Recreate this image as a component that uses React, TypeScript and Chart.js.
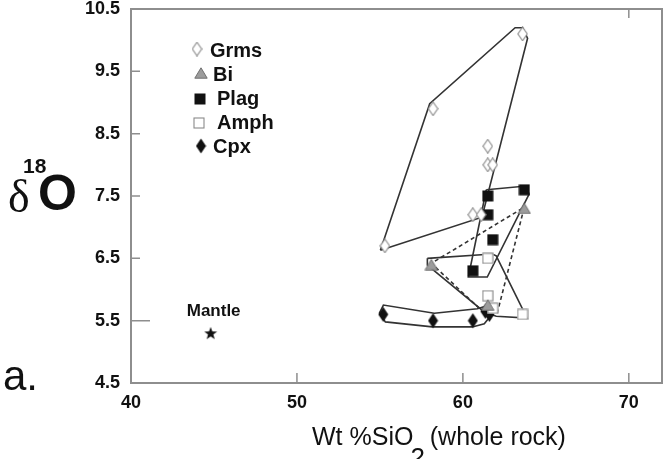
import React, { useEffect, useRef } from "react";
import { Chart, registerables } from "chart.js";
Chart.register(...registerables);

// ---- data ----
const seriesNames = ["Grms", "Bi", "Plag", "Amph", "Cpx"];
const grmsX = [55.3, 58.2, 63.6, 61.5, 61.5, 61.8, 60.6, 61.1];
const grmsY = [6.7, 8.9, 10.1, 8.3, 8.0, 8.0, 7.2, 7.2];
const biX = [58.1, 63.7, 61.5];
const biY = [6.4, 7.3, 5.75];
const plagX = [61.5, 63.7, 61.5, 61.8, 60.6];
const plagY = [7.5, 7.6, 7.2, 6.8, 6.3];
const amphX = [61.5, 61.5, 61.8, 63.6];
const amphY = [6.5, 5.9, 5.7, 5.6];
const cpxX = [55.2, 58.2, 60.6, 61.35, 61.6];
const cpxY = [5.6, 5.5, 5.5, 5.65, 5.6];
const mantleX = [44.8];
const mantleY = [5.3];
const mantleLabel = "Mantle";

// field outlines
const grmsFieldX = [55.03, 58.0, 63.15, 63.6, 63.9, 61.15, 55.03];
const grmsFieldY = [6.63, 8.98, 10.2, 10.2, 10.03, 7.16, 6.63];
const plagFieldX = [61.41, 63.81, 63.99, 61.47, 60.33, 61.41];
const plagFieldY = [7.6, 7.66, 7.53, 6.2, 6.2, 7.6];
const biFieldX = [57.86, 61.77, 62.01, 63.87, 62.01, 61.29, 57.86, 57.86];
const biFieldY = [6.5, 6.57, 6.54, 5.54, 5.57, 5.64, 6.39, 6.5];
const cpxFieldX = [54.97, 55.21, 58.28, 60.87, 61.47, 61.71, 61.29, 60.57, 58.16, 55.33, 54.97];
const cpxFieldY = [5.62, 5.75, 5.62, 5.69, 5.74, 5.59, 5.45, 5.4, 5.4, 5.48, 5.62];
const tieX = [61.3, 58.1, 63.7, 62.07];
const tieY = [5.62, 6.42, 7.32, 5.62];

const xTicks = [40, 50, 60, 70];
const yTicks = [4.5, 5.5, 6.5, 7.5, 8.5, 9.5, 10.5];
const xMin = 40, xMax = 72, yMin = 4.5, yMax = 10.5;

const pts = (xs: number[], ys: number[]) => xs.map((x, i) => ({ x, y: ys[i] }));

function mk(w: number, h: number, draw: (c: CanvasRenderingContext2D) => void) {
  const c = document.createElement("canvas");
  c.width = w;
  c.height = h;
  draw(c.getContext("2d")!);
  return c;
}

export default function App() {
  const ref = useRef<HTMLCanvasElement>(null);
  useEffect(() => {
    const diamondOpen = mk(11, 15, (c) => {
      c.beginPath();
      c.moveTo(5.5, 0.7); c.lineTo(10.2, 7.5); c.lineTo(5.5, 14.3); c.lineTo(0.8, 7.5); c.closePath();
      c.fillStyle = "#fff"; c.fill();
      c.strokeStyle = "#8a8a8a"; c.lineWidth = 1.1; c.stroke();
    });
    const diamondBlack = mk(11, 16, (c) => {
      c.beginPath();
      c.moveTo(5.5, 0.5); c.lineTo(10.5, 8); c.lineTo(5.5, 15.5); c.lineTo(0.5, 8); c.closePath();
      c.fillStyle = "#111"; c.fill();
    });
    const triangle = mk(14, 12, (c) => {
      c.beginPath();
      c.moveTo(7, 0.8); c.lineTo(13.2, 11.2); c.lineTo(0.8, 11.2); c.closePath();
      c.fillStyle = "#9c9c9c"; c.fill();
      c.strokeStyle = "#707070"; c.lineWidth = 1; c.stroke();
    });
    const squareBlack = mk(12, 12, (c) => {
      c.fillStyle = "#111"; c.fillRect(0.5, 0.5, 11, 11);
    });
    const squareOpen = mk(12, 12, (c) => {
      c.fillStyle = "#fff"; c.fillRect(0.5, 0.5, 11, 11);
      c.strokeStyle = "#8a8a8a"; c.lineWidth = 1.1; c.strokeRect(1, 1, 10, 10);
    });
    const star = mk(14, 14, (c) => {
      c.beginPath();
      for (let i = 0; i < 10; i++) {
        const r = i % 2 === 0 ? 6.8 : 2.8;
        const a = -Math.PI / 2 + (i * Math.PI) / 5;
        const px = 7 + r * Math.cos(a), py = 7.5 + r * Math.sin(a);
        if (i === 0) c.moveTo(px, py); else c.lineTo(px, py);
      }
      c.closePath();
      c.fillStyle = "#111"; c.fill();
    });
    const markers = [diamondOpen, triangle, squareBlack, squareOpen, diamondBlack];

    const pointDs = (label: string, xs: number[], ys: number[], style: HTMLCanvasElement) => ({
      label, data: pts(xs, ys), pointStyle: style, pointRadius: 5, showLine: false, order: 1,
    });
    const lineDs = (label: string, xs: number[], ys: number[], dash: number[] = []) => ({
      label, data: pts(xs, ys), showLine: true, pointRadius: 0, borderColor: "#333",
      borderWidth: 1.6, borderDash: dash, fill: false, tension: 0, order: 2,
    });

    const sans = "'Liberation Sans', Arial, sans-serif";

    const decor = {
      id: "decor",
      beforeDatasetsDraw(chart: any) {
        const { ctx, chartArea: a, scales } = chart;
        ctx.save();
        ctx.strokeStyle = "#8e8e8e";
        ctx.lineWidth = 2;
        ctx.strokeRect(a.left, a.top, a.right - a.left, a.bottom - a.top);
        ctx.lineWidth = 1.5;
        ctx.beginPath();
        yTicks.forEach((v) => {
          if (v === yMin || v === yMax) return;
          const y = scales.y.getPixelForValue(v);
          ctx.moveTo(a.left, y); ctx.lineTo(a.left + (v === 5.5 ? 19 : 9), y);
        });
        xTicks.forEach((v) => {
          if (v === xMin) return;
          const x = scales.x.getPixelForValue(v);
          ctx.moveTo(x, a.bottom); ctx.lineTo(x, a.bottom - 10);
        });
        const x70 = scales.x.getPixelForValue(70);
        ctx.moveTo(x70, a.top); ctx.lineTo(x70, a.top + 9);
        ctx.stroke();
        ctx.restore();
      },
      afterDraw(chart: any) {
        const { ctx, scales } = chart;
        ctx.save();
        ctx.fillStyle = "#111";
        ctx.textBaseline = "alphabetic";
        ctx.textAlign = "left";
        // y title
        ctx.font = "46px 'Liberation Serif', serif";
        ctx.fillText("δ", 8, 212);
        ctx.font = `bold 21px ${sans}`;
        ctx.fillText("18", 23, 173);
        ctx.font = `bold 50px ${sans}`;
        ctx.fillText("O", 38, 210);
        // panel letter
        ctx.font = `42px ${sans}`;
        ctx.fillText("a.", 3, 390);
        // x title
        ctx.font = `25px ${sans}`;
        const p1 = "Wt %SiO";
        ctx.fillText(p1, 312, 445);
        let x = 312 + ctx.measureText(p1).width - 3;
        ctx.font = `26px ${sans}`;
        ctx.fillText("2", x, 466);
        x += ctx.measureText("2").width - 2;
        ctx.font = `25px ${sans}`;
        ctx.fillText(" (whole rock)", x, 445);
        // mantle label
        ctx.font = `bold 17px ${sans}`;
        ctx.textAlign = "center";
        const mx = scales.x.getPixelForValue(mantleX[0]);
        const my = scales.y.getPixelForValue(mantleY[0]);
        ctx.fillText(mantleLabel, mx + 3, my - 17);
        // legend
        const mPos = [[197, 49], [201, 73], [200, 99], [199, 123], [201, 146]];
        const tPos = [[210, 57], [213, 81], [217, 105], [217, 129], [213, 153]];
        ctx.textAlign = "left";
        ctx.font = `bold 20px ${sans}`;
        seriesNames.forEach((name, i) => {
          const m = markers[i];
          ctx.drawImage(m, mPos[i][0] - m.width / 2, mPos[i][1] - m.height / 2);
          ctx.fillText(name, tPos[i][0], tPos[i][1]);
        });
        ctx.restore();
      },
    };

    const chart = new Chart(ref.current!, {
      type: "scatter",
      data: {
        datasets: [
          pointDs(seriesNames[0], grmsX, grmsY, diamondOpen),
          pointDs(seriesNames[1], biX, biY, triangle),
          pointDs(seriesNames[2], plagX, plagY, squareBlack),
          pointDs(seriesNames[3], amphX, amphY, squareOpen),
          pointDs(seriesNames[4], cpxX, cpxY, diamondBlack),
          pointDs(mantleLabel, mantleX, mantleY, star),
          lineDs("grms field", grmsFieldX, grmsFieldY),
          lineDs("plag field", plagFieldX, plagFieldY),
          lineDs("bi field", biFieldX, biFieldY),
          lineDs("cpx field", cpxFieldX, cpxFieldY),
          lineDs("tie lines", tieX, tieY, [4, 3]),
        ] as any,
      },
      options: {
        animation: false,
        responsive: true,
        maintainAspectRatio: false,
        layout: { autoPadding: false, padding: { left: 0, top: 9, right: 3, bottom: 0 } },
        plugins: { legend: { display: false }, tooltip: { enabled: false } },
        scales: {
          x: {
            type: "linear",
            min: xMin,
            max: xMax,
            grid: { display: false, drawTicks: false },
            border: { display: false },
            afterBuildTicks: (s: any) => { s.ticks = xTicks.map((v) => ({ value: v })); },
            afterFit: (s: any) => { s.height = 76; s.paddingLeft = 0; s.paddingRight = 0; },
            ticks: {
              padding: 9,
              color: "#111",
              font: { family: sans, size: 18, weight: "bold" },
              callback: (v: any) => String(v),
            },
          },
          y: {
            type: "linear",
            min: yMin,
            max: yMax,
            grid: { display: false, drawTicks: false },
            border: { display: false },
            afterBuildTicks: (s: any) => { s.ticks = yTicks.map((v) => ({ value: v })); },
            afterFit: (s: any) => { s.width = 131; s.paddingTop = 0; s.paddingBottom = 0; },
            ticks: {
              padding: 11,
              color: "#111",
              font: { family: sans, size: 18, weight: "bold" },
              callback: (v: any) => Number(v).toFixed(1),
            },
          },
        },
      },
      plugins: [decor],
    });
    return () => chart.destroy();
  }, []);
  return (
    <div style={{ position: "fixed", left: 0, top: 0, width: 665, height: 459, background: "#fff" }}>
      <canvas ref={ref} />
    </div>
  );
}
